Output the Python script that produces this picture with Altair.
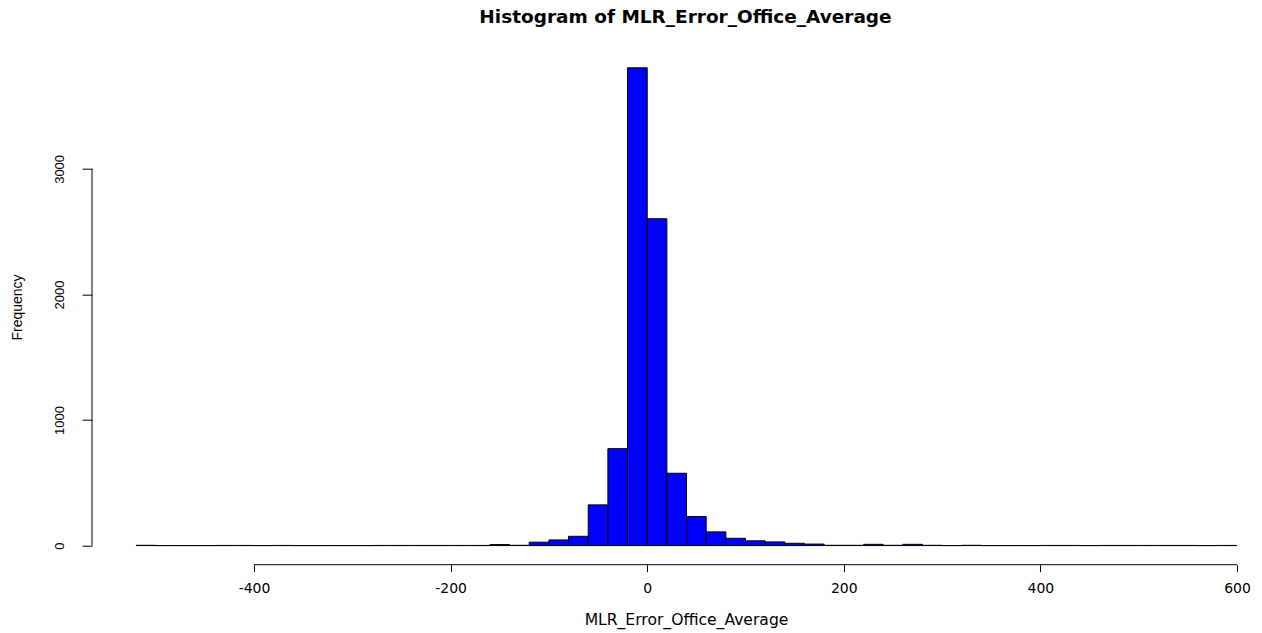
import altair as alt
import pandas as pd

# ---- data (bin width 20) ----
bin_starts = [-520, -500, -480, -460, -440, -420, -400, -380, -360, -340, -320, -300,
              -280, -260, -240, -220, -200, -180, -160, -140, -120, -100, -80, -60,
              -40, -20, 0, 20, 40, 60, 80, 100, 120, 140, 160, 180, 200, 220, 240,
              260, 280, 300, 320, 340, 360, 380, 400, 420, 440, 460, 480, 500, 520,
              540, 560, 580]
counts = [2, 0, 0, 0, 1, 1, 0, 1, 0, 0, 0, 0,
          1, 1, 1, 1, 1, 1, 8, 2, 27, 45, 74, 324,
          772, 3805, 2603, 576, 231, 109, 58, 38, 29, 18, 12, 2, 2, 10, 2,
          10, 2, 0, 2, 0, 0, 0, 1, 1, 0, 1, 1, 1, 1,
          1, 0, 1]
bin_width = 20

x_ticks = [-400, -200, 0, 200, 400, 600]
y_ticks = [0, 1000, 2000, 3000]

title_text = "Histogram of MLR_Error_Office_Average"
x_title = "MLR_Error_Office_Average"
y_title = "Frequency"

# R-style axis ranges (4% extension)
x_dom = [-564.8, 625.4]
y_dom = [-152.2, 3957.2]

W, H = 1170, 516
PAD_L, PAD_T = 92, 48.7

bars = pd.DataFrame({
    "x0": bin_starts,
    "x1": [b + bin_width for b in bin_starts],
    "count": counts,
    "base": [0] * len(counts),
})

xscale = alt.Scale(domain=x_dom, nice=False, zero=False)
yscale = alt.Scale(domain=y_dom, nice=False, zero=False)

xaxis = alt.Axis(
    values=x_ticks, grid=False, domain=False, ticks=True, tickSize=7,
    tickColor="black", tickWidth=1,
    labelExpr="'' + datum.value",
    labelFont="DejaVu Sans", labelFontSize=14, labelColor="black",
    labelBaseline="top", labelPadding=10, labelAlign="center",
    title=x_title, titleFont="DejaVu Sans", titleFontSize=15.6,
    titleFontWeight="normal", titleColor="black",
    titleAlign="center", titleBaseline="alphabetic",
    titleX=686 - PAD_L, titleY=60,
)
yaxis = alt.Axis(
    values=y_ticks, grid=False, domain=False, ticks=True, tickSize=10,
    tickColor="black", tickWidth=1,
    labelExpr="'' + datum.value",
    labelFont="Liberation Sans", labelFontSize=13, labelColor="black",
    labelAngle=270, labelAlign="center", labelBaseline="alphabetic",
    labelPadding=18.5,
    title=y_title, titleFont="Liberation Sans", titleFontSize=14,
    titleFontWeight="normal", titleColor="black",
    titleAngle=270, titleAlign="center", titleBaseline="alphabetic",
    titleX=21.7 - PAD_L, titleY=307 - PAD_T,
)


def X(f):
    return alt.X(f, type="quantitative", scale=xscale, axis=xaxis)


def Y(f):
    return alt.Y(f, type="quantitative", scale=yscale, axis=yaxis)


hist = alt.Chart(bars).mark_rect(
    color="#0000FF", stroke="black", strokeWidth=1
).encode(
    x=X("x0"), x2="x1", y=Y("count"), y2="base"
)

# axis lines spanning only the tick range, like base R
xline_df = pd.DataFrame({"x0": [min(x_ticks)], "x1": [max(x_ticks)], "count": [y_dom[0]]})
yline_df = pd.DataFrame({"x0": [x_dom[0]], "count": [min(y_ticks)], "top": [max(y_ticks)]})

xline = alt.Chart(xline_df).mark_rule(color="black", strokeWidth=1).encode(
    x=X("x0"), x2="x1", y=Y("count")
)
yline = alt.Chart(yline_df).mark_rule(color="black", strokeWidth=1).encode(
    x=X("x0"), y=Y("count"), y2="top"
)

chart = alt.layer(hist, xline, yline).properties(
    width=W, height=H,
    title=alt.TitleParams(
        text=title_text, font="DejaVu Sans", fontSize=18.5, fontWeight="bold",
        color="black", anchor="middle", frame="group", baseline="alphabetic",
        offset=7, dx=8.5,
    ),
    autosize=alt.AutoSizeParams(type="none"),
    padding={"left": PAD_L, "top": PAD_T, "right": 0, "bottom": 67},
    background="white",
).configure_view(stroke=None)

chart.save("out.html", embed_options={"renderer": "svg", "actions": False})
